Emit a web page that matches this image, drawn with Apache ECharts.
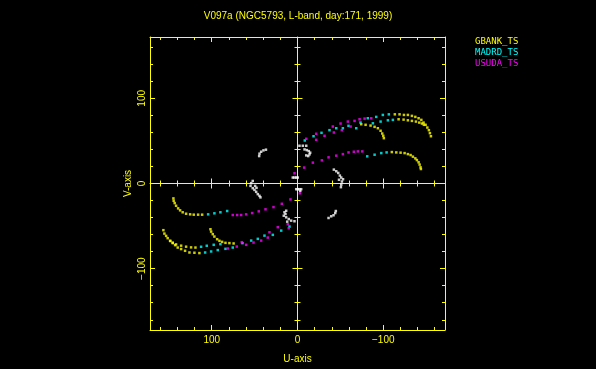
<!DOCTYPE html>
<html>
<head>
<meta charset="utf-8">
<script src="https://cdn.jsdelivr.net/npm/echarts@6/dist/echarts.min.js"></script>
<style>
html,body{margin:0;padding:0;background:#000;}
#chart{width:596px;height:369px;}
</style>
</head>
<body>
<div id="chart"></div>
<script>
// ---- data (U, V) in the plot's units ----
const titleText = 'V097a (NGC5793, L-band, day:171, 1999)';
const seriesNames = ['GBANK_TS', 'MADRD_TS', 'USUDA_TS'];
const seriesColors = ['#ffff00', '#00ffff', '#ff00ff'];

const gbankPts = [
  [-113.5,81.2],[-119.0,81.2],[-124.1,80.5],[-128.7,80.5],[-133.4,79.4],[-137.4,78.2],[-141.2,76.6],[-144.4,74.7],[-147.0,71.5],[-149.4,68.9],[-151.4,65.7],[-153.2,62.6],[-154.4,59.1],[-155.6,55.5],
  [-117.9,75.4],[-123.7,75.0],[-128.7,74.2],[-133.4,73.5],[-138.1,72.7],[-142.0,71.5],[-145.1,70.4],[-147.4,68.9],
  [-74.3,69.6],[-79.4,68.9],[-85.2,68.0],[-89.9,66.5],[-93.7,64.9],[-96.9,61.9],[-98.8,58.7],[-100.0,56.0],[-100.7,53.2],
  [-110.0,36.9],[-115.2,36.5],[-120.2,36.2],[-124.9,35.7],[-128.7,34.5],[-131.9,33.4],[-134.6,31.5],[-137.4,29.5],[-139.2,27.5],[-141.2,24.9],[-142.4,22.2],[-143.5,19.0],[-143.9,17.0],
  [144.7,-17.5],[144.4,-20.3],[143.2,-23.0],[141.6,-26.1],[139.2,-29.2],[136.9,-31.5],[133.9,-33.8],[129.9,-35.5],[125.2,-36.2],[121.0,-36.6],[115.9,-36.6],[111.2,-36.6],
  [156.4,-54.8],[155.2,-58.8],[153.2,-61.5],[151.4,-64.2],[148.6,-67.3],[145.5,-70.0],[142.7,-72.4],[139.7,-75.2],[135.7,-77.0],[131.1,-79.0],[126.0,-81.0],[120.2,-81.3],[114.4,-81.7],
  [119.0,-75.2],[124.1,-75.0],[129.9,-74.2],[135.7,-73.0],[141.6,-71.5],[145.5,-69.5],[148.2,-67.5],
  [101.5,-53.7],[100.7,-56.5],[98.8,-59.5],[96.9,-62.3],[93.7,-65.4],[91.0,-67.3],[87.9,-68.5],[84.0,-69.7],[79.4,-70.0],[74.5,-70.4]
];

const madrdPts = [
  [-99.5,80.5],[-106.5,81.2],[-91.8,78.2],[-82.0,76.6],[-59.5,67.7],[-52.9,64.9],[-45.2,64.9],[-37.3,62.6],[-68.5,64.9],[-73.5,71.5],
  [-105.4,74.2],[-111.2,74.7],[-96.9,72.7],[-87.9,70.7],
  [-8.5,50.5],[-18.7,55.5],[-28.0,59.5],
  [-81.3,31.9],[-89.9,33.8],[-97.7,35.7],[-103.9,36.5],
  [104.2,-36.2],[96.9,-35.0],[89.9,-33.8],[82.0,-32.3],
  [107.7,-81.0],[100.7,-79.8],[93.0,-78.2],[84.0,-76.7],[75.5,-75.2],
  [112.4,-74.3],[105.8,-73.1],[97.7,-72.0],[89.9,-71.2],
  [64.2,-70.0],[54.0,-67.0],[46.3,-65.0],[38.5,-61.2],[28.8,-60.3],[19.0,-55.3],[9.3,-50.6]
];

const usudaPts = [
  [-41.2,66.9],[-50.2,70.4],[-58.7,72.7],[-66.5,73.5],[-72.4,75.4],[-78.2,76.2],[-86.0,76.6],
  [-31.5,56.0],[-42.4,59.9],[-51.7,62.6],[-61.9,66.9],[-10.2,52.5],[-21.8,58.4],[-21.8,51.3],
  [-7.8,18.7],[-17.9,24.5],[-28.4,27.2],[-36.2,30.7],[-45.2,32.7],[-52.9,34.5],[-59.5,36.5],[-65.7,37.3],[-70.4,37.7],[-75.5,37.7],
  [3.5,12.0],[-2.8,-11.5],
  [75.5,-37.0],[70.4,-37.0],[65.7,-37.0],[59.9,-36.2],[52.9,-34.7],[45.2,-32.7],[37.3,-30.3],[28.0,-27.7],[18.3,-23.8],[8.2,-18.7],
  [81.3,-76.3],[70.8,-74.0],[59.9,-72.0],[51.3,-69.3],[42.4,-67.0],[32.7,-57.2],[23.0,-51.3],[11.3,-47.8],[65.0,-68.9],[34.7,-63.5],[10.2,-52.5]
];

const groundPts = [
  [-2.3,44.3],[-6.2,44.3],[-10.2,44.3],[-8.2,40.0],[-10.9,39.2],[-13.2,38.0],[-14.8,36.2],[-14.0,34.2],[-12.5,32.2],[-10.2,33.0],
  [13.2,-32.0],[15.2,-33.8],[14.0,-35.8],[16.0,-37.8],[13.2,-39.7],[10.2,-41.7],[7.4,-43.6],[3.5,-44.3],[12.0,-44.8],
  [44.7,32.2],[44.3,35.0],[42.4,37.3],[39.7,38.9],[36.8,39.7],
  [-36.2,-40.5],[-39.3,-38.5],[-42.0,-37.3],[-44.0,-34.7],[-44.7,-32.3],
  [-42.4,16.3],[-45.2,14.4],[-47.5,12.4],[-49.4,9.3],[-51.0,7.0],[-53.1,5.0],[-48.4,4.4],[-51.8,2.3],[-51.0,-1.4],[-50.6,-4.3],
  [52.2,3.0],[54.0,0.4],[54.8,-2.8],[52.2,-5.5],[50.2,-7.5],[48.2,-9.8],[46.3,-12.5],[44.3,-14.5],[43.2,-16.3],[49.4,-2.8],[47.8,-5.1],
  [5.5,7.0],[3.5,7.0],[1.5,7.0],[-0.3,7.0],
  [1.5,-6.7],[-0.4,-6.7],[-2.3,-6.7],[-4.3,-6.7],[-3.2,-8.6]
];

const axisExtent = [-172, 172];
const majorTicks = [-100, 0, 100];
const minorTicks = [-160,-140,-120,-80,-60,-40,-20,20,40,60,80,120,140,160];
const labelTicks = [-100, 0, 100];

// ---- chart ----
const Y = '#ffff00';
const FONT = 'Liberation Sans';
const fmt = v => (v < 0 ? '\u2212' + Math.abs(v) : String(v));

function axis(dim, position, ticks, len, inside, extra) {
  const base = {
    type: 'value',
    min: axisExtent[0], max: axisExtent[1],
    position: position,
    splitLine: {show: false},
    axisLine: {show: false, onZero: false, lineStyle: {color: Y, width: 1}},
    axisTick: {show: true, inside: inside, length: len, customValues: ticks, lineStyle: {color: Y, width: 1}},
    axisLabel: {show: false},
    splitNumber: 2
  };
  if (dim === 'x') base.inverse = true;
  return Object.assign(base, extra || {});
}
const zeroLine = {show: true, onZero: true, onZeroAxisIndex: 0, lineStyle: {color: Y, width: 1}};
const zeroNoLine = {show: false, onZero: true, onZeroAxisIndex: 0, lineStyle: {color: Y, width: 1}};
const borderLine = {show: true, onZero: false, lineStyle: {color: Y, width: 1}};

const xAxes = [
  axis('x', 'bottom', majorTicks, 5, true, {
    axisLine: borderLine,
    axisLabel: {show: true, customValues: labelTicks, formatter: fmt, color: Y, fontSize: 10, fontFamily: FONT, margin: 5},
    name: 'U-axis', nameLocation: 'middle', nameGap: 24,
    nameTextStyle: {color: Y, fontSize: 10, fontFamily: FONT}
  }),
  axis('x', 'bottom', minorTicks, 3, true),
  axis('x', 'top', majorTicks, 5, true, {axisLine: borderLine}),
  axis('x', 'top', minorTicks, 3, true),
  axis('x', 'bottom', majorTicks, 5, true, {axisLine: zeroLine}),
  axis('x', 'bottom', majorTicks, 5, false, {axisLine: zeroNoLine}),
  axis('x', 'bottom', minorTicks, 3, true, {axisLine: zeroNoLine}),
  axis('x', 'bottom', minorTicks, 3, false, {axisLine: zeroNoLine})
];
const yAxes = [
  axis('y', 'left', majorTicks, 5, true, {
    axisLine: borderLine,
    axisLabel: {show: true, customValues: labelTicks, formatter: fmt, color: Y, fontSize: 10, fontFamily: FONT, margin: 3, rotate: 90},
    name: 'V-axis', nameLocation: 'middle', nameGap: 17,
    nameTextStyle: {color: Y, fontSize: 10, fontFamily: FONT}
  }),
  axis('y', 'left', minorTicks, 3, true),
  axis('y', 'right', majorTicks, 5, true, {axisLine: borderLine}),
  axis('y', 'right', minorTicks, 3, true),
  axis('y', 'left', majorTicks, 5, true, {axisLine: zeroLine}),
  axis('y', 'left', majorTicks, 5, false, {axisLine: zeroNoLine}),
  axis('y', 'left', minorTicks, 3, true, {axisLine: zeroNoLine}),
  axis('y', 'left', minorTicks, 3, false, {axisLine: zeroNoLine})
];

function pts(name, data, color) {
  return {
    type: 'scatter', name: name, data: data,
    xAxisIndex: 0, yAxisIndex: 0,
    symbol: 'rect', symbolSize: 2.5,
    itemStyle: {color: color},
    silent: true, z: 5
  };
}

const chart = echarts.init(document.getElementById('chart'), null, {renderer: 'canvas'});
chart.setOption({
  backgroundColor: '#000000',
  animation: false,
  title: {
    text: titleText, left: 'center', top: 11, padding: 0,
    textStyle: {color: Y, fontSize: 10, fontWeight: 'normal', fontFamily: FONT}
  },
  legend: {
    orient: 'vertical', left: 468, top: 36, padding: 0,
    icon: 'none', itemWidth: 2, itemHeight: 10, itemGap: 0,
    selectedMode: false,
    textStyle: {fontSize: 9, fontFamily: 'DejaVu Sans Mono', lineHeight: 11},
    data: seriesNames.map((n, i) => ({name: n, textStyle: {color: seriesColors[i]}}))
  },
  grid: {left: 150, top: 37, width: 295, height: 294, containLabel: false},
  xAxis: xAxes,
  yAxis: yAxes,
  series: [
    pts(seriesNames[0], gbankPts, seriesColors[0]),
    pts(seriesNames[1], madrdPts, seriesColors[1]),
    pts(seriesNames[2], usudaPts, seriesColors[2]),
    pts('ground', groundPts, '#ffffff')
  ]
});
</script>
</body>
</html>
